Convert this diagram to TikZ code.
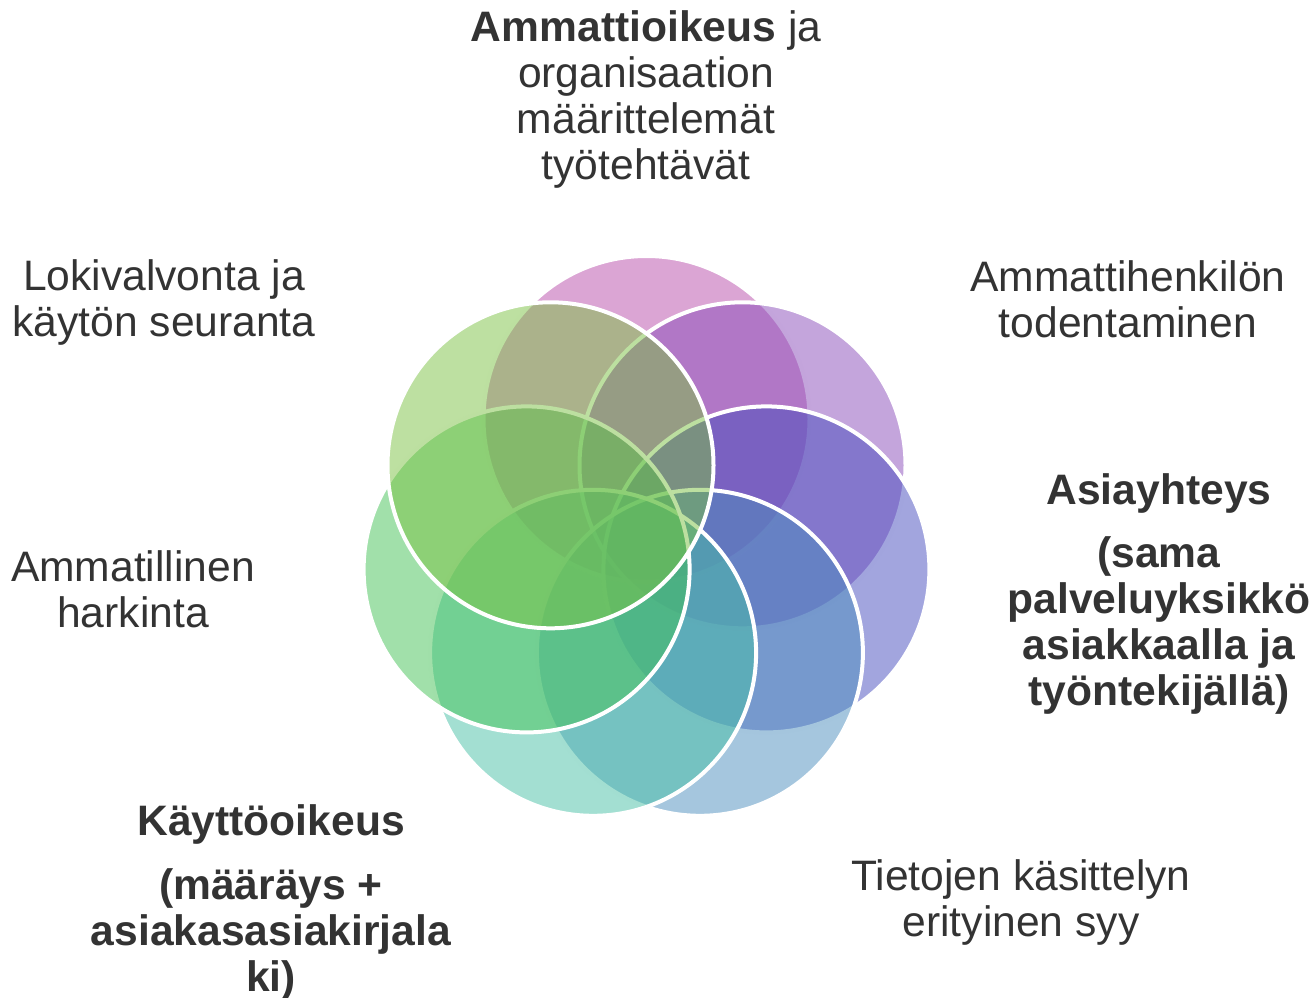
\documentclass[tikz,border=0pt]{standalone}
\usepackage{fontspec}
\setmainfont{Liberation Sans}
\definecolor{cpink}{RGB}{183,75,169}
\definecolor{cpurple}{RGB}{137,75,185}
\definecolor{cbluepurple}{RGB}{69,75,189}
\definecolor{cblue}{RGB}{75,141,189}
\definecolor{cteal}{RGB}{71,191,165}
\definecolor{clightgreen}{RGB}{67,193,85}
\definecolor{cgreen}{RGB}{123,193,67}
\definecolor{txt}{RGB}{51,51,51}
\begin{document}
\begin{tikzpicture}[x=1pt,y=-1pt,
  petal/.style={circle,minimum size=326pt,inner sep=0pt,draw=white,line width=4pt,fill opacity=0.5},
  lbl/.style={align=center,text=txt,inner sep=0pt,font=\fontsize{42.6}{46}\selectfont}]
\useasboundingbox (0,0) rectangle (1314,998);
\node[petal,fill=cpink] (p1) at (646.5,419) {};
\node[petal,fill=cpurple] (p2) at (742.5,465.3) {};
\node[petal,fill=cbluepurple] (p3) at (766.4,569.4) {};
\node[petal,fill=cblue] (p4) at (699.9,652.8) {};
\node[petal,fill=cteal] (p5) at (593.1,652.8) {};
\node[petal,fill=clightgreen] (p6) at (526.6,569.4) {};
\node[petal,fill=cgreen] (p7) at (550.5,465.3) {};

\node[lbl] (t1) at (646,99.5) {\textbf{Ammattioikeus} ja\\organisaation\\määrittelemät\\työtehtävät};
\node[lbl] (t2) at (1128,299.5) {Ammattihenkilön\\todentaminen};
\node[lbl] (t3) at (1159,593.5) {\textbf{Asiayhteys}\\[17pt]\textbf{(sama}\\\textbf{palveluyksikkö}\\\textbf{asiakkaalla ja}\\\textbf{työntekijällä)}};
\node[lbl] (t4) at (1021,902.5) {Tietojen käsittelyn\\erityinen syy};
\node[lbl] (t5) at (271,902.5) {\textbf{Käyttöoikeus}\\[18pt]\textbf{(määräys +}\\\textbf{asiakasasiakirjala}\\\textbf{ki)}};
\node[lbl] (t6) at (133,589.5) {Ammatillinen\\harkinta};
\node[lbl] (t7) at (164,302.5) {Lokivalvonta ja\\käytön seuranta};
\end{tikzpicture}
\end{document}
